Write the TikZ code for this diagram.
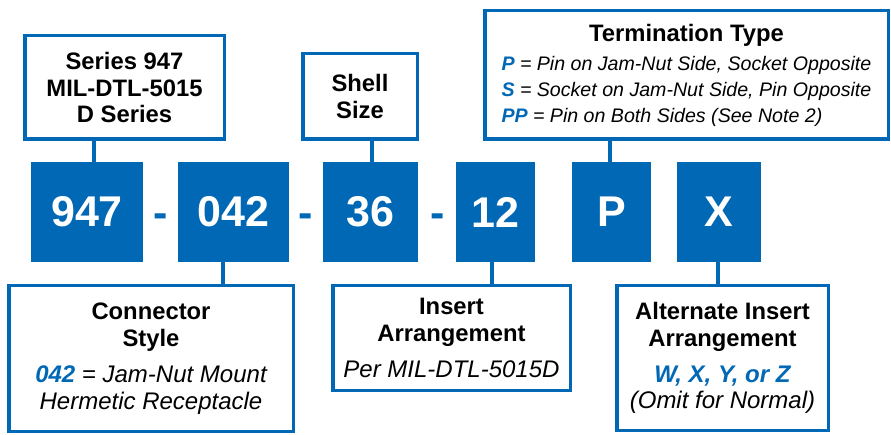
\documentclass[tikz,border=0pt]{standalone}
\usepackage{fontspec}
\setmainfont{Liberation Sans}
\usetikzlibrary{calc}
\definecolor{pnblue}{RGB}{0,104,180}
\newcommand{\headfont}{\fontsize{23.8}{26.7}\selectfont\bfseries\upshape}
\newcommand{\bodyfont}{\fontsize{24}{26.7}\selectfont\mdseries\itshape}
\newcommand{\termfont}{\fontsize{19.6}{26}\selectfont\mdseries\itshape}
\newcommand{\codefont}{\fontsize{43}{50}\selectfont\bfseries}
\newcommand{\pnhl}[1]{\textcolor{pnblue}{\bfseries\itshape #1}}
\newcommand{\tline}[1]{\makebox[370pt][l]{\termfont #1}}
\begin{document}
\begin{tikzpicture}[x=1pt,y=-1pt,
  codebox/.style={fill=pnblue,text=white,font=\codefont,minimum height=100pt,inner sep=0pt},
  infobox/.style={draw=pnblue,line width=3.5pt,fill=white,align=center,font=\headfont,inner sep=0pt},
  hyphen/.style={text=pnblue,font=\codefont,anchor=base,inner sep=0pt},
  link/.style={draw=pnblue,line width=3.5pt}]
\useasboundingbox (0,0) rectangle (891,435);
% part number
\node[codebox,minimum width=112pt] (c947) at (87,212) {947};
\node[codebox,minimum width=111pt] (c042) at (233.5,212) {042};
\node[codebox,minimum width=95pt] (c36) at (370.5,212) {36};
\node[codebox,minimum width=79pt] (c12) at (495.5,212) {12};
\node[codebox,minimum width=79pt] (cP) at (611.5,212) {P};
\node[codebox,minimum width=84pt] (cX) at (719,212) {X};
\node[hyphen] (h1) at (161,228) {-};
\node[hyphen] (h2) at (306,228) {-};
\node[hyphen] (h3) at (437.5,228) {-};
% top boxes
\node[infobox,minimum width=199.5pt,minimum height=103.5pt] (ser) at (124.5,87.5) {Series 947\\MIL-DTL-5015\\D Series};
\node[infobox,minimum width=114.5pt,minimum height=85.5pt] (shell) at (360,96.5) {Shell\\Size};
\node[infobox,font=\termfont,minimum width=403.5pt,minimum height=128.5pt] (term) at (686.5,75) {{\headfont Termination Type}\\[3pt]
  \tline{\pnhl{P} = Pin on Jam-Nut Side, Socket Opposite}\\
  \tline{\pnhl{S} = Socket on Jam-Nut Side, Pin Opposite}\\
  \tline{\pnhl{PP} = Pin on Both Sides (See Note 2)}};
% bottom boxes
\node[infobox,minimum width=284.5pt,minimum height=145.5pt] (conn) at (151,358.5) {Connector\\Style\\[9.5pt]
  {\bodyfont\pnhl{042} = Jam-Nut Mount}\\{\bodyfont Hermetic Receptacle}};
\node[infobox,minimum width=237.5pt,minimum height=104.5pt] (ins) at (451.5,338) {Insert\\Arrangement\\[9pt]
  {\bodyfont Per MIL-DTL-5015D}};
\node[infobox,minimum width=211.5pt,minimum height=144.5pt] (alt) at (722.5,358) {Alternate Insert\\Arrangement\\[9.5pt]
  {\bodyfont\pnhl{W, X, Y, or Z}}\\{\bodyfont (Omit for Normal)}};
% links
\draw[link] ($(c947.north)+(7,0)$) -- ($(c947.north |- ser.south)+(7,0)$);
\draw[link] ($(c36.north)+(1.5,0)$) -- ($(c36.north |- shell.south)+(1.5,0)$);
\draw[link] ($(cP.north)+(-1.5,0)$) -- ($(cP.north |- term.south)+(-1.5,0)$);
\draw[link] ($(c042.south)+(-10.5,0)$) -- ($(c042.south |- conn.north)+(-10.5,0)$);
\draw[link] ($(c12.south)+(-3.5,0)$) -- ($(c12.south |- ins.north)+(-3.5,0)$);
\draw[link] ($(cX.south)+(-1,0)$) -- ($(cX.south |- alt.north)+(-1,0)$);
\end{tikzpicture}
\end{document}
